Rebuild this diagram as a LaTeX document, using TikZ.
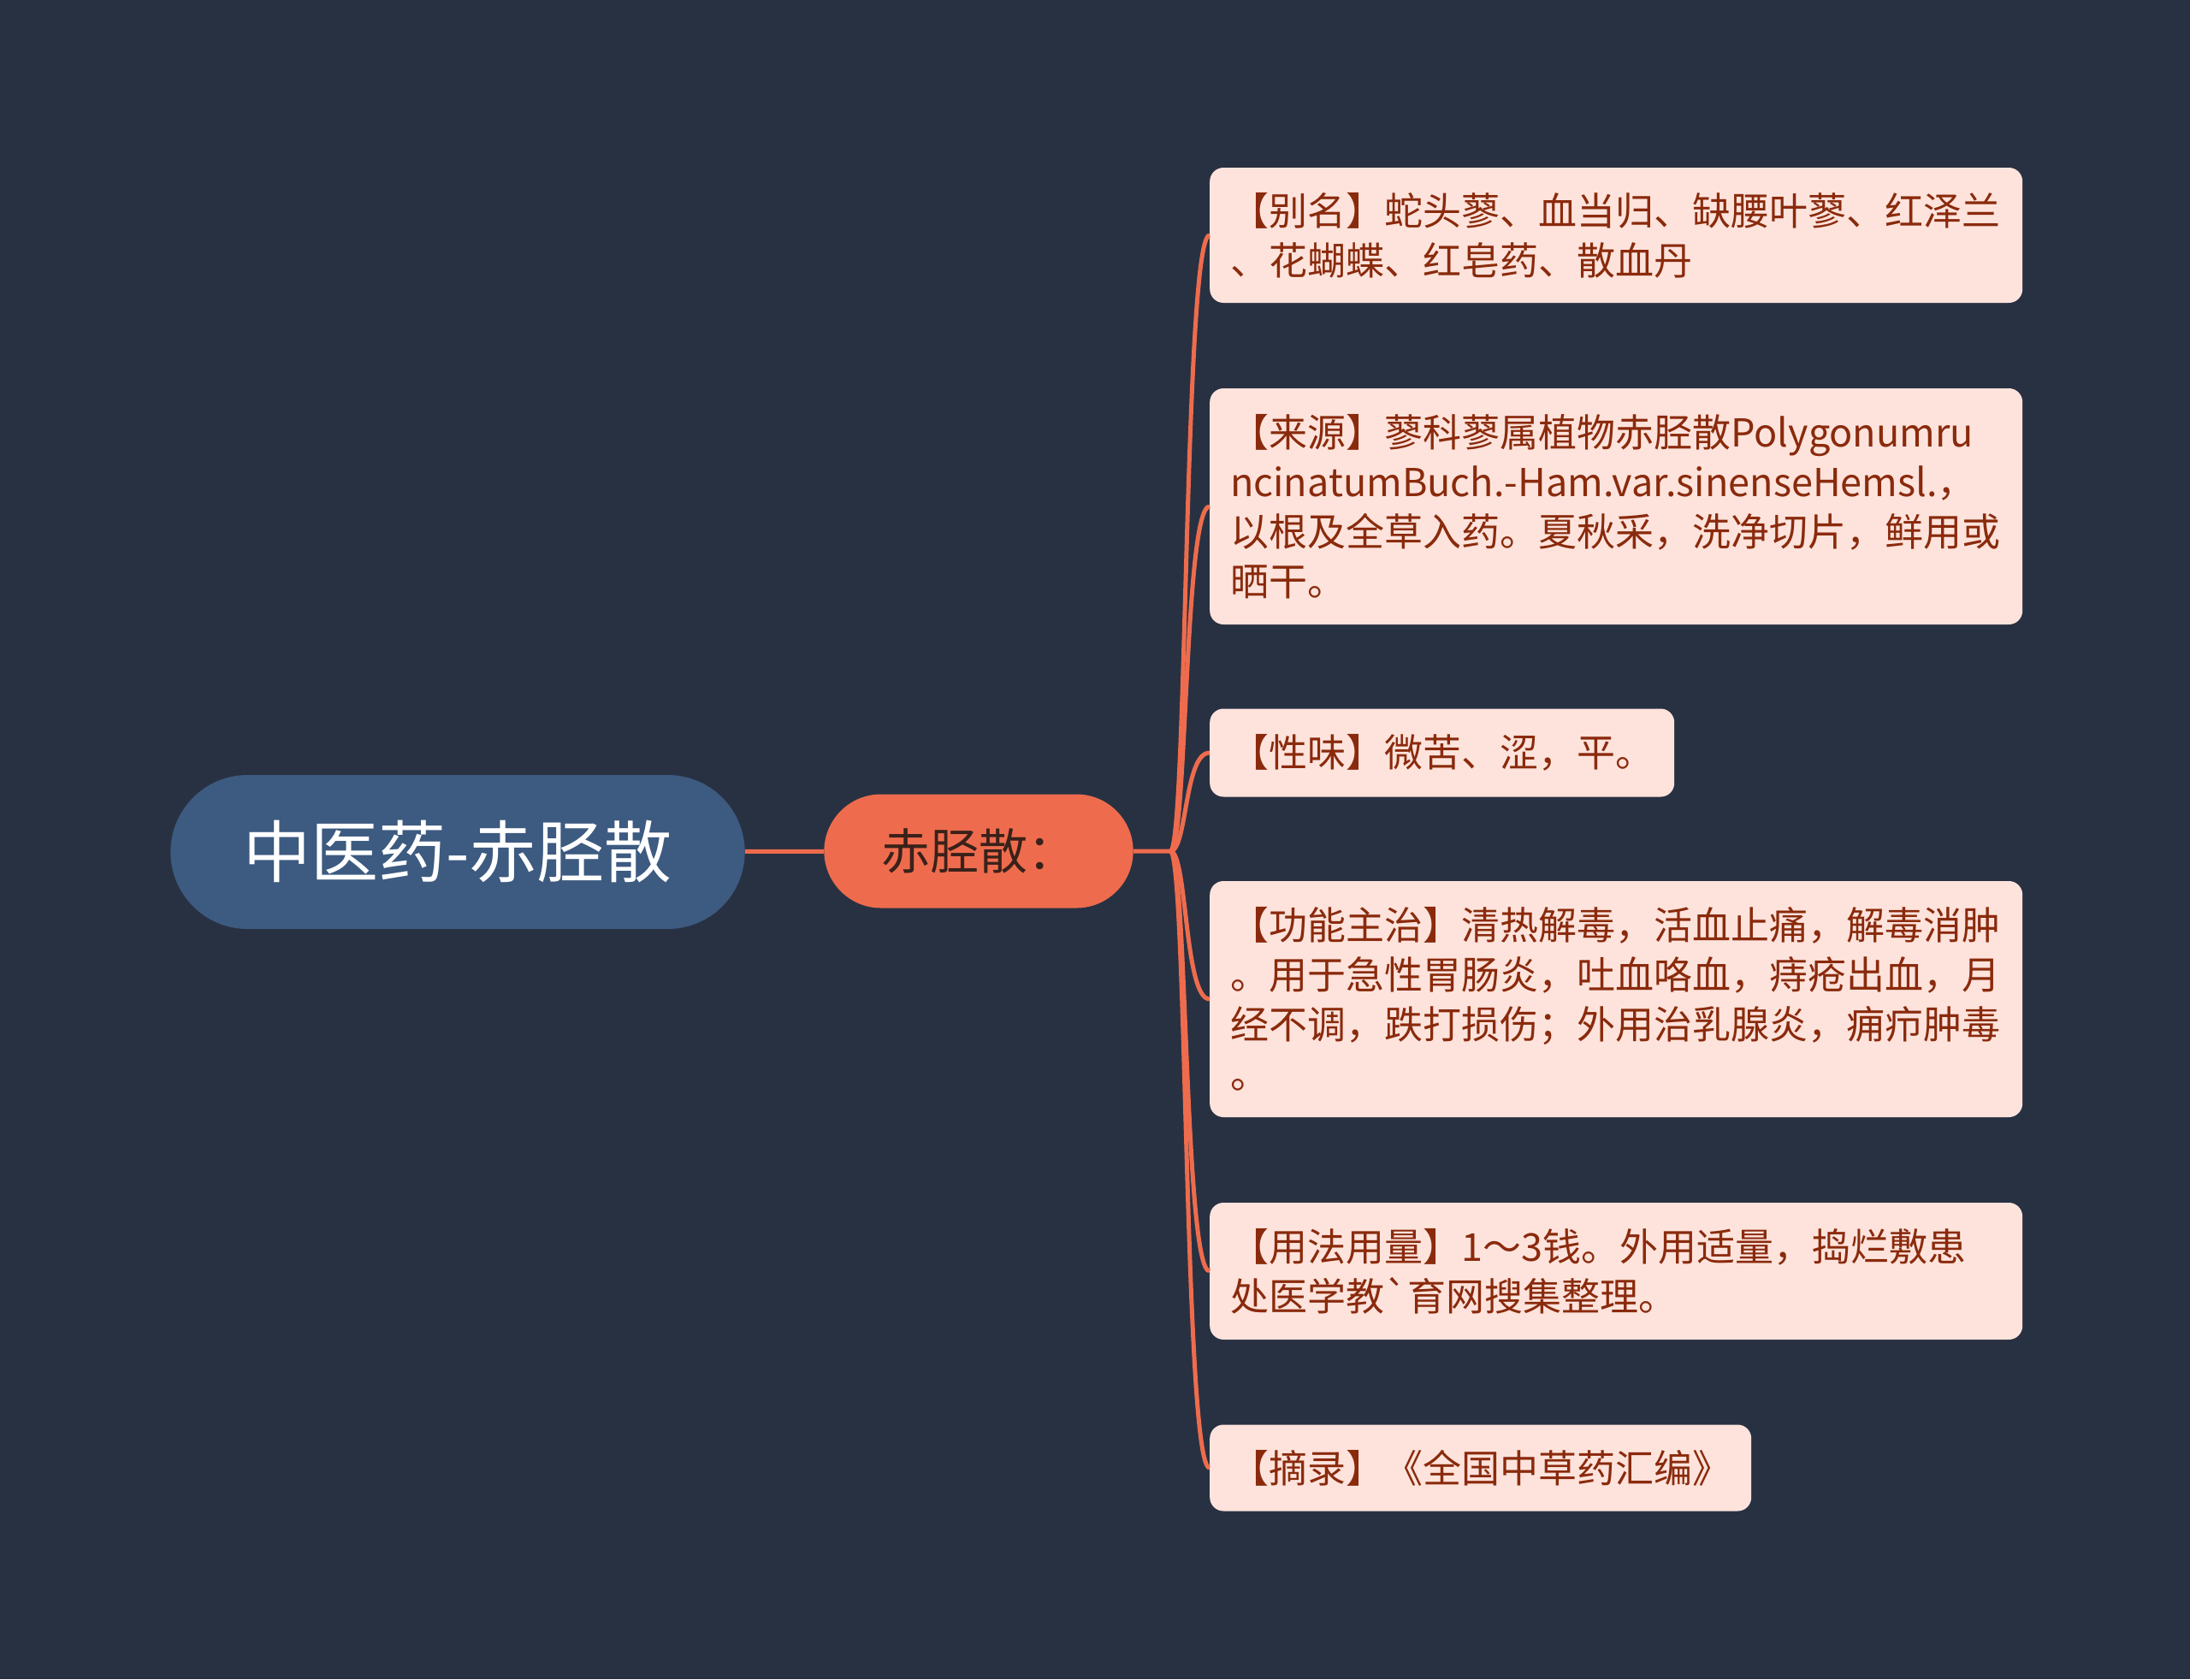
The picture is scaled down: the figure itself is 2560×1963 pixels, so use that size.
\documentclass[tikz,border=0pt]{standalone}
\usepackage{fontspec}
\newfontfamily\cjk{Noto Sans CJK SC}[Ligatures=TeXOff]
\usetikzlibrary{shapes.misc}
\definecolor{bgdark}{HTML}{283142}
\definecolor{rootblue}{HTML}{3D5A80}
\definecolor{branchorange}{HTML}{EE6C4D}
\definecolor{leaffill}{HTML}{FDE3DC}
\definecolor{leaftext}{HTML}{8A2A0C}
\definecolor{branchtext}{HTML}{3A211A}

\begin{document}
\begin{tikzpicture}[x=1pt,y=-1pt,
    root/.style={rounded rectangle, fill=rootblue, text=white, minimum width=678pt, minimum height=180pt, font=\cjk\fontsize{79}{92}\selectfont},
    branch/.style={rounded rectangle, fill=branchorange, text=branchtext, minimum width=368pt, minimum height=133pt, font=\cjk\fontsize{57}{66}\selectfont},
    leaf/.style={anchor=west, rectangle, rounded corners=16pt, fill=leaffill, text=leaftext, inner xsep=24pt, inner ysep=10pt, align=left, font=\cjk\fontsize{45}{58}\selectfont},
    wide/.style={text width=902pt},
    link/.style={branchorange, line width=5pt}]
    \fill[bgdark] (0,0) rectangle (2560,1963);
    \useasboundingbox (0,0) rectangle (2560,1963);
    \node[root] (root) at (535,996) {中医药-赤胫散};
    \node[branch] (herb) at (1144,995) {赤胫散：};
    \coordinate (hub) at (1368,995);
    \node[leaf,wide,minimum height=158pt] (alias) at (1414,275) {【别名】蛇头蓼、血当归、缺腰叶蓼、红泽兰\\、花蝴蝶、红皂药、散血丹};
    \node[leaf,wide,minimum height=276pt] (source) at (1414,592) {【来源】蓼科蓼属植物赤胫散Polygonumru\\ncinatumBuch.-Ham.var.sinenseHemsl.，\\以根及全草入药。夏秋采，洗净切片，鲜用或\\晒干。};
    \node[leaf,minimum height=103pt] (taste) at (1414,880) {【性味】微苦、涩，平。};
    \node[leaf,wide,minimum height=276pt] (usage) at (1414,1168) {【功能主治】清热解毒，活血止痛，解毒消肿\\。用于急性胃肠炎，吐血咯血，痔疮出血，月\\经不调，跌打损伤；外用治乳腺炎，痈疖肿毒\\。};
    \node[leaf,wide,minimum height=160pt] (dosage) at (1414,1486) {【用法用量】1～3钱。外用适量，捣烂敷患\\处医学教`育网搜集整理。};
    \node[leaf,minimum height=101pt] (excerpt) at (1414,1716) {【摘录】《全国中草药汇编》};
    % links
    \draw[link] (root) -- (herb);
    \draw[link] (herb) -- (hub);
    \foreach \leafname in {alias,source,taste,usage,dosage,excerpt}
      \draw[link] (hub) .. controls +(20,0) and +(-30,0) .. (\leafname.west);
\end{tikzpicture}
\end{document}
